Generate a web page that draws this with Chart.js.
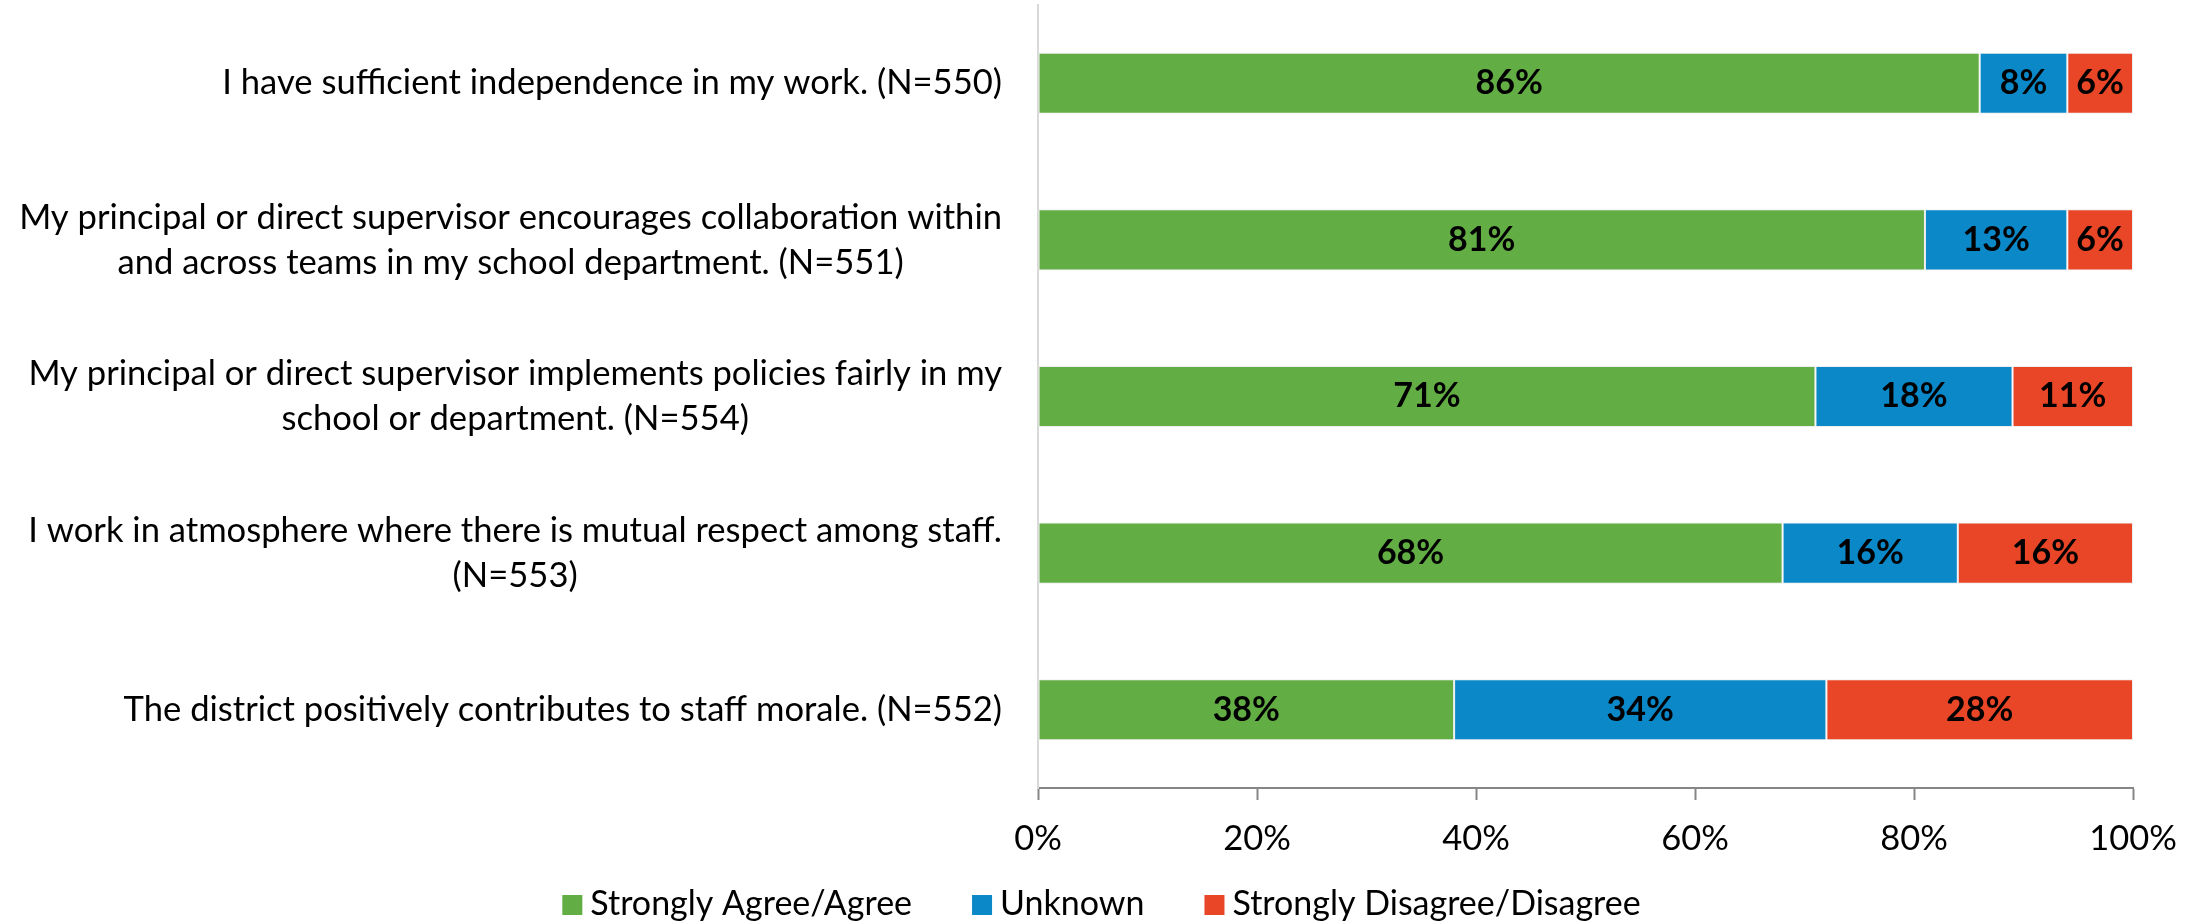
<!DOCTYPE html>
<html>
<head>
<meta charset="utf-8">
<title>Staff survey</title>
<script src="https://cdn.jsdelivr.net/npm/chart.js@4.4.1/dist/chart.umd.min.js"></script>
<style>
  html, body { margin: 0; padding: 0; background: #fff; }
  #wrap { width: 2203px; height: 923px; position: relative; }
</style>
</head>
<body>
<div id="wrap"><canvas id="surveyChart"></canvas></div>
<script>
const questions = [
    ['I have sufficient independence in my work. (N=550)'],
    ['My principal or direct supervisor encourages collaboration within', 'and across teams in my school department. (N=551)'],
    ['My principal or direct supervisor implements policies fairly in my', 'school or department. (N=554)'],
    ['I work in atmosphere where there is mutual respect among staff.', '(N=553)'],
    ['The district positively contributes to staff morale. (N=552)']
];
const agree = [86, 81, 71, 68, 38];
const unknown = [8, 13, 18, 16, 34];
const disagree = [6, 6, 11, 16, 28];
const seriesNames = ['Strongly Agree/Agree', 'Unknown', 'Strongly Disagree/Disagree'];
const seriesColors = ['#63ad45', '#0a88c8', '#e94628'];
const xTicks = [0, 20, 40, 60, 80, 100];

const FONT = 'Lato, "Open Sans", sans-serif';
const TICK_SIZE = 34.5;
const LEGEND_SIZE = 34;
const QUESTION_SIZE = 34.6;
const VALUE_SIZE = 34;

Chart.defaults.font.family = FONT;
Chart.defaults.font.size = TICK_SIZE;
Chart.defaults.color = '#000';

// percentages in the bars, question text beside the axis, and the legend row
const surveyLabels = {
    id: 'surveyLabels',
    afterDatasetsDraw(chart) {
        const ctx = chart.ctx;
        const area = chart.chartArea;
        const yScale = chart.scales.y;
        ctx.save();
        ctx.fillStyle = '#000';
        ctx.textBaseline = 'middle';

        ctx.font = 'bold ' + VALUE_SIZE + 'px ' + FONT;
        ctx.textAlign = 'center';
        chart.data.datasets.forEach(function(ds, di) {
            chart.getDatasetMeta(di).data.forEach(function(bar, i) {
                ctx.fillText(ds.data[i] + '%', (bar.x + bar.base) / 2, bar.y);
            });
        });

        ctx.font = QUESTION_SIZE + 'px ' + FONT;
        const lineHeight = 45;
        const rightEdge = area.left - 36;
        questions.forEach(function(lines, i) {
            const widest = Math.max.apply(null, lines.map(l => ctx.measureText(l).width));
            const cx = rightEdge - widest / 2;
            const cy = yScale.getPixelForValue(i);
            lines.forEach(function(line, k) {
                ctx.fillText(line, cx, cy + (k - (lines.length - 1) / 2) * lineHeight);
            });
        });

        // legend
        ctx.font = LEGEND_SIZE + 'px ' + FONT;
        const box = 20, boxGap = 8, itemGap = 60, legendY = 904;
        const widths = seriesNames.map(n => ctx.measureText(n).width);
        let total = 0;
        widths.forEach(function(w, i) {
            total += box + boxGap + w + (i < widths.length - 1 ? itemGap : 0);
        });
        let x = (chart.width - total) / 2;
        ctx.textAlign = 'left';
        seriesNames.forEach(function(name, i) {
            ctx.fillStyle = seriesColors[i];
            ctx.fillRect(x, legendY - box / 2 + 1, box, box);
            ctx.fillStyle = '#000';
            ctx.fillText(name, x + box + boxGap, legendY);
            x += box + boxGap + widths[i] + itemGap;
        });
        ctx.restore();
    }
};

function makeDataset(name, values, color) {
    return {
        label: name,
        data: values,
        backgroundColor: color,
        borderColor: '#eeeeee',
        borderWidth: 1,
        borderSkipped: false,
        barPercentage: 0.39,
        categoryPercentage: 1
    };
}

const ctx = document.getElementById('surveyChart').getContext('2d');
const surveyChart = new Chart(ctx, {
    type: 'bar',
    data: {
        labels: questions.map(q => q.join(' ')),
        datasets: [
            makeDataset(seriesNames[0], agree, seriesColors[0]),
            makeDataset(seriesNames[1], unknown, seriesColors[1]),
            makeDataset(seriesNames[2], disagree, seriesColors[2])
        ]
    },
    options: {
        indexAxis: 'y',
        responsive: true,
        maintainAspectRatio: false,
        animation: false,
        layout: {
            padding: { top: 5, right: 70, bottom: 0, left: 0 }
        },
        plugins: {
            legend: { display: false },
            tooltip: {
                callbacks: {
                    label: function(item) {
                        return item.dataset.label + ': ' + item.raw + '%';
                    }
                }
            }
        },
        scales: {
            x: {
                stacked: true,
                min: 0,
                max: 100,
                afterBuildTicks: function(scale) {
                    scale.ticks = xTicks.map(v => ({ value: v }));
                },
                afterFit: function(scale) {
                    scale.height = 135;
                },
                ticks: {
                    padding: 18,
                    maxRotation: 0,
                    callback: function(value) {
                        return value + '%';
                    }
                },
                grid: {
                    drawOnChartArea: false,
                    tickLength: 12,
                    tickWidth: 2,
                    color: '#868686'
                },
                border: { color: '#868686', width: 2 }
            },
            y: {
                stacked: true,
                afterFit: function(scale) {
                    scale.width = 1038;
                },
                ticks: { display: false },
                grid: { display: false },
                border: { color: '#d9d9d9', width: 2 }
            }
        }
    },
    plugins: [surveyLabels]
});
</script>
</body>
</html>
